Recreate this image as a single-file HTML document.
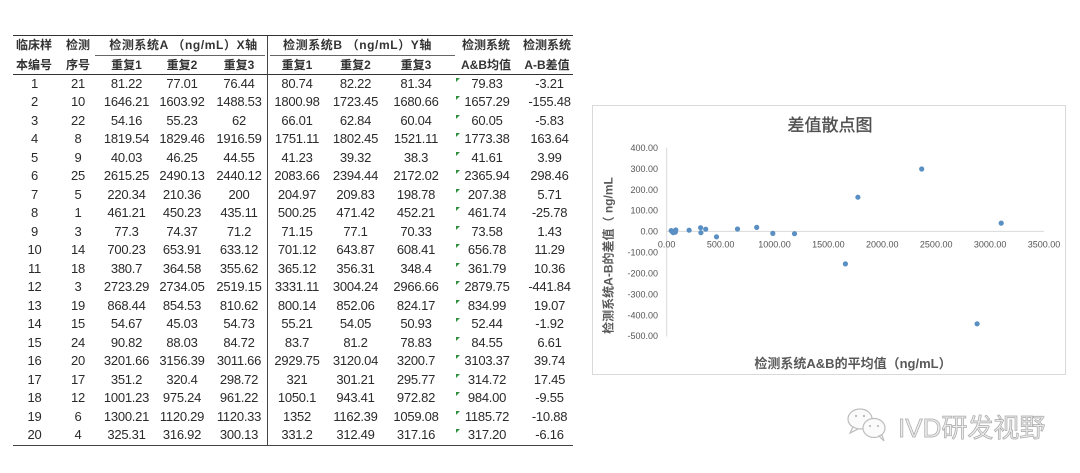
<!DOCTYPE html>
<html><head><meta charset="utf-8">
<style>
html,body{margin:0;padding:0;background:#fff;}
body{width:1080px;height:473px;position:relative;overflow:hidden;font-family:"Liberation Sans","Noto Sans CJK SC",sans-serif;}
.hl{position:absolute;background:#333;}
.h{position:absolute;font-family:"Liberation Sans","Noto Sans CJK SC",sans-serif;font-weight:bold;font-size:12px;color:#333;text-align:center;line-height:16px;white-space:nowrap;}
.rows{position:absolute;left:13px;top:74.5px;width:560px;}
.r{display:flex;height:18.525px;line-height:18.5px;font-size:13px;letter-spacing:-0.25px;color:#2a2a2a;}
.r span{display:block;text-align:center;white-space:nowrap;position:relative;}
.r span:nth-child(1){width:43px}
.r span:nth-child(2){width:44px}
.r span:nth-child(3){width:53px}
.r span:nth-child(4){width:58px}
.r span:nth-child(5){width:56px}
.r span:nth-child(6){width:60px}
.r span:nth-child(7){width:57px}
.r span:nth-child(8){width:64px}
.r span:nth-child(9){width:78px}
.r span:nth-child(10){width:47px}
.r span:nth-child(9)::before{content:"";position:absolute;left:8px;top:3px;width:0;height:0;border-top:4px solid #2f8f3f;border-right:4px solid transparent;}
</style></head><body>

<div class="hl" style="left:13px;top:35px;width:560px;height:1px;"></div>
<div class="hl" style="left:13px;top:73.5px;width:560px;height:1.3px;"></div>
<div class="hl" style="left:13px;top:444.5px;width:560px;height:1.5px;background:#444;"></div>
<div class="hl" style="left:95px;top:55px;width:170px;height:1px;background:#666;"></div>
<div class="hl" style="left:270px;top:55px;width:185px;height:1px;background:#666;"></div>
<div class="hl" style="left:267px;top:36px;width:1px;height:409px;background:#444;"></div>

<div class="h" style="left:9px;top:37px;width:50px;">临床样</div>
<div class="h" style="left:9px;top:57px;width:50px;">本编号</div>
<div class="h" style="left:56px;top:37px;width:44px;">检测</div>
<div class="h" style="left:56px;top:57px;width:44px;">序号</div>
<div class="h" style="left:100px;top:37px;width:167px;letter-spacing:0.6px;">检测系统A （ng/mL）X轴</div>
<div class="h" style="left:100px;top:57px;width:53px;">重复1</div>
<div class="h" style="left:153px;top:57px;width:58px;">重复2</div>
<div class="h" style="left:211px;top:57px;width:56px;">重复3</div>
<div class="h" style="left:267px;top:37px;width:181px;letter-spacing:0.6px;">检测系统B （ng/mL）Y轴</div>
<div class="h" style="left:267px;top:57px;width:60px;">重复1</div>
<div class="h" style="left:327px;top:57px;width:57px;">重复2</div>
<div class="h" style="left:384px;top:57px;width:64px;">重复3</div>
<div class="h" style="left:448px;top:37px;width:76px;">检测系统</div>
<div class="h" style="left:448px;top:57px;width:76px;">A&amp;B均值</div>
<div class="h" style="left:519px;top:37px;width:56px;">检测系统</div>
<div class="h" style="left:519px;top:57px;width:56px;">A-B差值</div>

<div class="rows">
<div class="r"><span>1</span><span>21</span><span>81.22</span><span>77.01</span><span>76.44</span><span>80.74</span><span>82.22</span><span>81.34</span><span>79.83</span><span>-3.21</span></div>
<div class="r"><span>2</span><span>10</span><span>1646.21</span><span>1603.92</span><span>1488.53</span><span>1800.98</span><span>1723.45</span><span>1680.66</span><span>1657.29</span><span>-155.48</span></div>
<div class="r"><span>3</span><span>22</span><span>54.16</span><span>55.23</span><span>62</span><span>66.01</span><span>62.84</span><span>60.04</span><span>60.05</span><span>-5.83</span></div>
<div class="r"><span>4</span><span>8</span><span>1819.54</span><span>1829.46</span><span>1916.59</span><span>1751.11</span><span>1802.45</span><span>1521.11</span><span>1773.38</span><span>163.64</span></div>
<div class="r"><span>5</span><span>9</span><span>40.03</span><span>46.25</span><span>44.55</span><span>41.23</span><span>39.32</span><span>38.3</span><span>41.61</span><span>3.99</span></div>
<div class="r"><span>6</span><span>25</span><span>2615.25</span><span>2490.13</span><span>2440.12</span><span>2083.66</span><span>2394.44</span><span>2172.02</span><span>2365.94</span><span>298.46</span></div>
<div class="r"><span>7</span><span>5</span><span>220.34</span><span>210.36</span><span>200</span><span>204.97</span><span>209.83</span><span>198.78</span><span>207.38</span><span>5.71</span></div>
<div class="r"><span>8</span><span>1</span><span>461.21</span><span>450.23</span><span>435.11</span><span>500.25</span><span>471.42</span><span>452.21</span><span>461.74</span><span>-25.78</span></div>
<div class="r"><span>9</span><span>3</span><span>77.3</span><span>74.37</span><span>71.2</span><span>71.15</span><span>77.1</span><span>70.33</span><span>73.58</span><span>1.43</span></div>
<div class="r"><span>10</span><span>14</span><span>700.23</span><span>653.91</span><span>633.12</span><span>701.12</span><span>643.87</span><span>608.41</span><span>656.78</span><span>11.29</span></div>
<div class="r"><span>11</span><span>18</span><span>380.7</span><span>364.58</span><span>355.62</span><span>365.12</span><span>356.31</span><span>348.4</span><span>361.79</span><span>10.36</span></div>
<div class="r"><span>12</span><span>3</span><span>2723.29</span><span>2734.05</span><span>2519.15</span><span>3331.11</span><span>3004.24</span><span>2966.66</span><span>2879.75</span><span>-441.84</span></div>
<div class="r"><span>13</span><span>19</span><span>868.44</span><span>854.53</span><span>810.62</span><span>800.14</span><span>852.06</span><span>824.17</span><span>834.99</span><span>19.07</span></div>
<div class="r"><span>14</span><span>15</span><span>54.67</span><span>45.03</span><span>54.73</span><span>55.21</span><span>54.05</span><span>50.93</span><span>52.44</span><span>-1.92</span></div>
<div class="r"><span>15</span><span>24</span><span>90.82</span><span>88.03</span><span>84.72</span><span>83.7</span><span>81.2</span><span>78.83</span><span>84.55</span><span>6.61</span></div>
<div class="r"><span>16</span><span>20</span><span>3201.66</span><span>3156.39</span><span>3011.66</span><span>2929.75</span><span>3120.04</span><span>3200.7</span><span>3103.37</span><span>39.74</span></div>
<div class="r"><span>17</span><span>17</span><span>351.2</span><span>320.4</span><span>298.72</span><span>321</span><span>301.21</span><span>295.77</span><span>314.72</span><span>17.45</span></div>
<div class="r"><span>18</span><span>12</span><span>1001.23</span><span>975.24</span><span>961.22</span><span>1050.1</span><span>943.41</span><span>972.82</span><span>984.00</span><span>-9.55</span></div>
<div class="r"><span>19</span><span>6</span><span>1300.21</span><span>1120.29</span><span>1120.33</span><span>1352</span><span>1162.39</span><span>1059.08</span><span>1185.72</span><span>-10.88</span></div>
<div class="r"><span>20</span><span>4</span><span>325.31</span><span>316.92</span><span>300.13</span><span>331.2</span><span>312.49</span><span>317.16</span><span>317.20</span><span>-6.16</span></div>
</div>

<svg width="1080" height="473" style="position:absolute;left:0;top:0;" xmlns="http://www.w3.org/2000/svg">
<rect x="592.5" y="105.5" width="473" height="269" fill="#fff" stroke="#d9d9d9" stroke-width="1"/>
<text x="830" y="131" text-anchor="middle" font-family="Liberation Sans, Noto Sans CJK SC, sans-serif" font-size="17" fill="#505050" stroke="#505050" stroke-width="0.35">差值散点图</text>
<line x1="666.7" y1="147.5" x2="666.7" y2="336.5" stroke="#d9d9d9" stroke-width="1"/>
<line x1="666.7" y1="231.4" x2="1044" y2="231.4" stroke="#d9d9d9" stroke-width="1"/>
<g font-family="Liberation Sans, sans-serif" font-size="9" fill="#555" text-anchor="end">
<text x="658" y="150.9">400.00</text>
<text x="658" y="171.8">300.00</text>
<text x="658" y="192.8">200.00</text>
<text x="658" y="213.7">100.00</text>
<text x="658" y="234.6">0.00</text>
<text x="658" y="255.5">-100.00</text>
<text x="658" y="276.4">-200.00</text>
<text x="658" y="297.4">-300.00</text>
<text x="658" y="318.3">-400.00</text>
<text x="658" y="339.2">-500.00</text>
</g>
<g font-family="Liberation Sans, sans-serif" font-size="9" fill="#555" text-anchor="middle">
<text x="666.7" y="247.5">0.00</text>
<text x="720.6" y="247.5">500.00</text>
<text x="774.5" y="247.5">1000.00</text>
<text x="828.4" y="247.5">1500.00</text>
<text x="882.3" y="247.5">2000.00</text>
<text x="936.2" y="247.5">2500.00</text>
<text x="990.1" y="247.5">3000.00</text>
<text x="1044" y="247.5">3500.00</text>
</g>
<text transform="translate(612.5,255.5) rotate(-90)" text-anchor="middle" font-family="Liberation Sans, Noto Sans CJK SC, sans-serif" font-size="12" font-weight="bold" fill="#595959">检测系统A-B的差值（ ng/mL</text>
<text x="853" y="368" text-anchor="middle" font-family="Liberation Sans, Noto Sans CJK SC, sans-serif" font-size="13" font-weight="bold" fill="#595959">检测系统A&amp;B的平均值（ng/mL）</text>
<g fill="#5a8fc3">
<circle cx="675.3" cy="232.1" r="2.6"/>
<circle cx="845.4" cy="263.9" r="2.6"/>
<circle cx="673.2" cy="232.6" r="2.6"/>
<circle cx="857.9" cy="197.2" r="2.6"/>
<circle cx="671.2" cy="230.6" r="2.6"/>
<circle cx="921.7" cy="169.0" r="2.6"/>
<circle cx="689.1" cy="230.2" r="2.6"/>
<circle cx="716.5" cy="236.8" r="2.6"/>
<circle cx="674.6" cy="231.1" r="2.6"/>
<circle cx="737.5" cy="229.0" r="2.6"/>
<circle cx="705.7" cy="229.2" r="2.6"/>
<circle cx="977.1" cy="323.8" r="2.6"/>
<circle cx="756.7" cy="227.4" r="2.6"/>
<circle cx="672.4" cy="231.8" r="2.6"/>
<circle cx="675.8" cy="230.0" r="2.6"/>
<circle cx="1001.2" cy="223.1" r="2.6"/>
<circle cx="700.6" cy="227.7" r="2.6"/>
<circle cx="772.8" cy="233.4" r="2.6"/>
<circle cx="794.5" cy="233.7" r="2.6"/>
<circle cx="700.9" cy="232.7" r="2.6"/>
</g>
<g fill="#fbfbfb" stroke="#bdbdbd" stroke-width="1.2">
<ellipse cx="860" cy="419" rx="12" ry="10"/>
<path d="M853 427 L850 433 L858 429 Z"/>
<ellipse cx="874" cy="428" rx="11" ry="9.5"/>
<path d="M879 436 L884 441 L882 435 Z"/>
</g>
<g fill="#bdbdbd">
<circle cx="856" cy="416" r="1.2"/><circle cx="864" cy="416" r="1.2"/>
<circle cx="870" cy="426" r="1.1"/><circle cx="878" cy="426" r="1.1"/>
</g>
<text x="898" y="437" font-family="Liberation Sans, Noto Sans CJK SC, sans-serif" font-size="26" fill="#ececec" stroke="#a8a8a8" stroke-width="0.7">IVD研发视野</text>
</svg>
</body></html>
